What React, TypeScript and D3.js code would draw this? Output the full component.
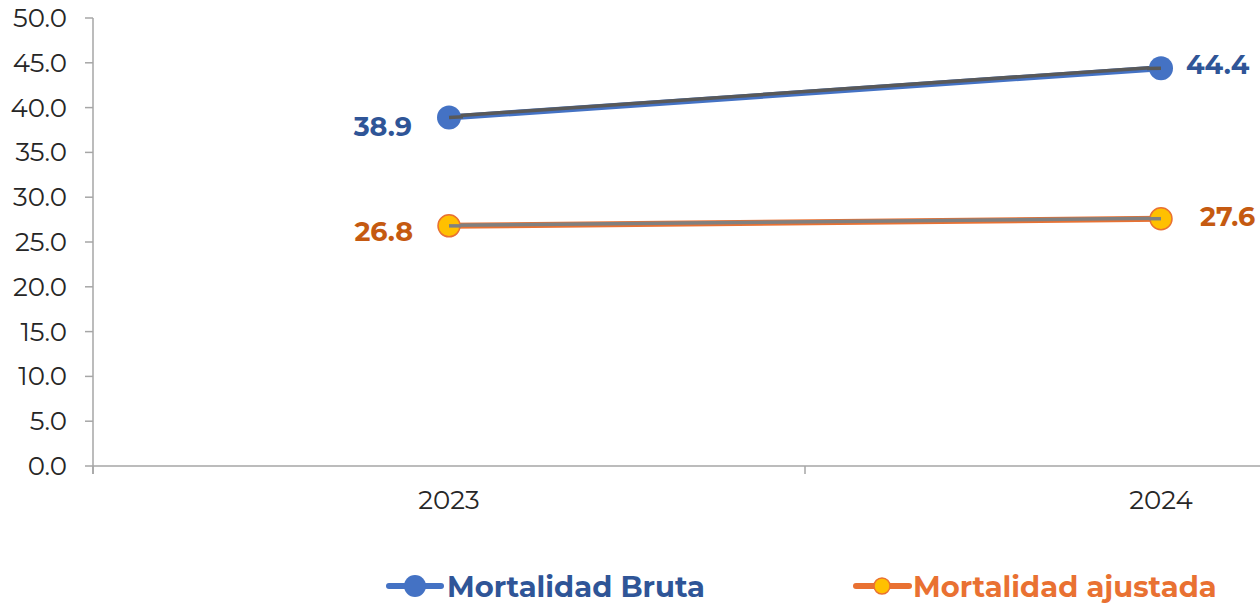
import React from "react";
import * as d3 from "d3";

const categories = ["2023", "2024"];
const brutaValues = [38.9, 44.4];
const ajustadaValues = [26.8, 27.6];
const yTicks = [0, 5, 10, 15, 20, 25, 30, 35, 40, 45, 50];
const seriesNames = ["Mortalidad Bruta", "Mortalidad ajustada"];

const FONT = "Montserrat, 'Open Sans', 'DejaVu Sans', sans-serif";

export default function App() {
  const W = 1260, H = 603;
  const x = d3.scaleBand<string>().domain(categories).range([93, 1517]);
  const y = d3.scaleLinear().domain([0, 50]).range([466, 18]);
  const cx = (c: string) => (x(c) as number) + x.bandwidth() / 2;
  const line = d3.line<[number, number]>().x(d => d[0]).y(d => d[1]);
  const bPts: [number, number][] = categories.map((c, i) => [cx(c), y(brutaValues[i])]);
  const aPts: [number, number][] = categories.map((c, i) => [cx(c), y(ajustadaValues[i])]);
  const shift = (pts: [number, number][], dy: number) => pts.map(p => [p[0], p[1] + dy] as [number, number]);
  const gridColor = "#A6A6A6";
  const blue = "#4472C4", blueText = "#2F5597";
  const orange = "#E97132", orangeText = "#C55A11", yellow = "#FFC000";

  const boundaries = [93, ...categories.map(c => (x(c) as number) + x.bandwidth())];

  return (
    <svg width={W} height={H} style={{ position: "absolute", left: 0, top: 0 }}>
      <rect width={W} height={H} fill="#fff" />
      {/* y axis */}
      <line x1={93} x2={93} y1={y(50)} y2={y(0) + 8} stroke={gridColor} strokeWidth={1.5} />
      {yTicks.map(t => (
        <g key={t}>
          <line x1={85} x2={93} y1={y(t)} y2={y(t)} stroke={gridColor} strokeWidth={1.5} />
          <text x={67} y={y(t)} textAnchor="end" dominantBaseline="central" fontFamily={FONT} fontSize={26} fill="#262626">
            {t.toFixed(1)}
          </text>
        </g>
      ))}
      {/* x axis */}
      <line x1={93} x2={1517} y1={y(0)} y2={y(0)} stroke={gridColor} strokeWidth={1.5} />
      {boundaries.map((b, i) => (
        <line key={i} x1={b} x2={b} y1={y(0)} y2={y(0) + 8} stroke={gridColor} strokeWidth={1.5} />
      ))}
      {categories.map(c => (
        <text key={c} x={cx(c)} y={500} textAnchor="middle" dominantBaseline="central" fontFamily={FONT} fontSize={26} fill="#262626">
          {c}
        </text>
      ))}
      {/* Bruta series */}
      <path d={line(bPts) || ""} fill="none" stroke={blue} strokeWidth={6} />
      <path d={line(shift(bPts, -1.2)) || ""} fill="none" stroke="#595959" strokeWidth={3.5} />
      {bPts.map((p, i) => (
        <circle key={i} cx={p[0]} cy={p[1]} r={12} fill={blue} />
      ))}
      <path d={`M${bPts[0][0]},${bPts[0][1]}L${bPts[0][0] + 14},${bPts[0][1] - 0.7}`} stroke="#595959" strokeWidth={3.5} />
      <path d={`M${bPts[1][0] - 14},${bPts[1][1] + 0.3}L${bPts[1][0]},${bPts[1][1]}`} stroke="#595959" strokeWidth={3.5} />
      {/* Ajustada series */}
      <path d={line(aPts) || ""} fill="none" stroke={orange} strokeWidth={6} />
      <path d={line(shift(aPts, -0.5)) || ""} fill="none" stroke="#808080" strokeWidth={3.5} />
      {aPts.map((p, i) => (
        <circle key={i} cx={p[0]} cy={p[1]} r={11} fill={yellow} stroke={orange} strokeWidth={1.5} />
      ))}
      <path d={`M${aPts[0][0]},${aPts[0][1]}L${aPts[0][0] + 12},${aPts[0][1]}`} stroke="#808080" strokeWidth={3.5} />
      <path d={`M${aPts[1][0] - 12},${aPts[1][1]}L${aPts[1][0]},${aPts[1][1]}`} stroke="#808080" strokeWidth={3.5} />
      {/* data labels */}
      <text x={bPts[0][0] - 37} y={bPts[0][1] + 9} textAnchor="end" dominantBaseline="central" fontFamily={FONT} fontWeight={700} fontSize={27} fill={blueText}>
        {brutaValues[0].toFixed(1)}
      </text>
      <text x={bPts[1][0] + 25} y={bPts[1][1] - 4} textAnchor="start" dominantBaseline="central" fontFamily={FONT} fontWeight={700} fontSize={27} fill={blueText}>
        {brutaValues[1].toFixed(1)}
      </text>
      <text x={aPts[0][0] - 36} y={aPts[0][1] + 6} textAnchor="end" dominantBaseline="central" fontFamily={FONT} fontWeight={700} fontSize={27} fill={orangeText}>
        {ajustadaValues[0].toFixed(1)}
      </text>
      <text x={aPts[1][0] + 39} y={aPts[1][1] - 2} textAnchor="start" dominantBaseline="central" fontFamily={FONT} fontWeight={700} fontSize={27} fill={orangeText}>
        {ajustadaValues[1].toFixed(1)}
      </text>
      {/* legend */}
      <line x1={389} x2={441} y1={586} y2={586} stroke={blue} strokeWidth={6} strokeLinecap="round" />
      <circle cx={415} cy={586} r={11} fill={blue} />
      <text x={447} y={586} dominantBaseline="central" fontFamily={FONT} fontWeight={700} fontSize={29} fill={blueText}>
        {seriesNames[0]}
      </text>
      <line x1={856} x2={909} y1={586} y2={586} stroke={orange} strokeWidth={6} strokeLinecap="round" />
      <circle cx={882} cy={586} r={8} fill={yellow} stroke={orange} strokeWidth={1.5} />
      <text x={913} y={586} dominantBaseline="central" fontFamily={FONT} fontWeight={700} fontSize={29} fill={orange}>
        {seriesNames[1]}
      </text>
    </svg>
  );
}
